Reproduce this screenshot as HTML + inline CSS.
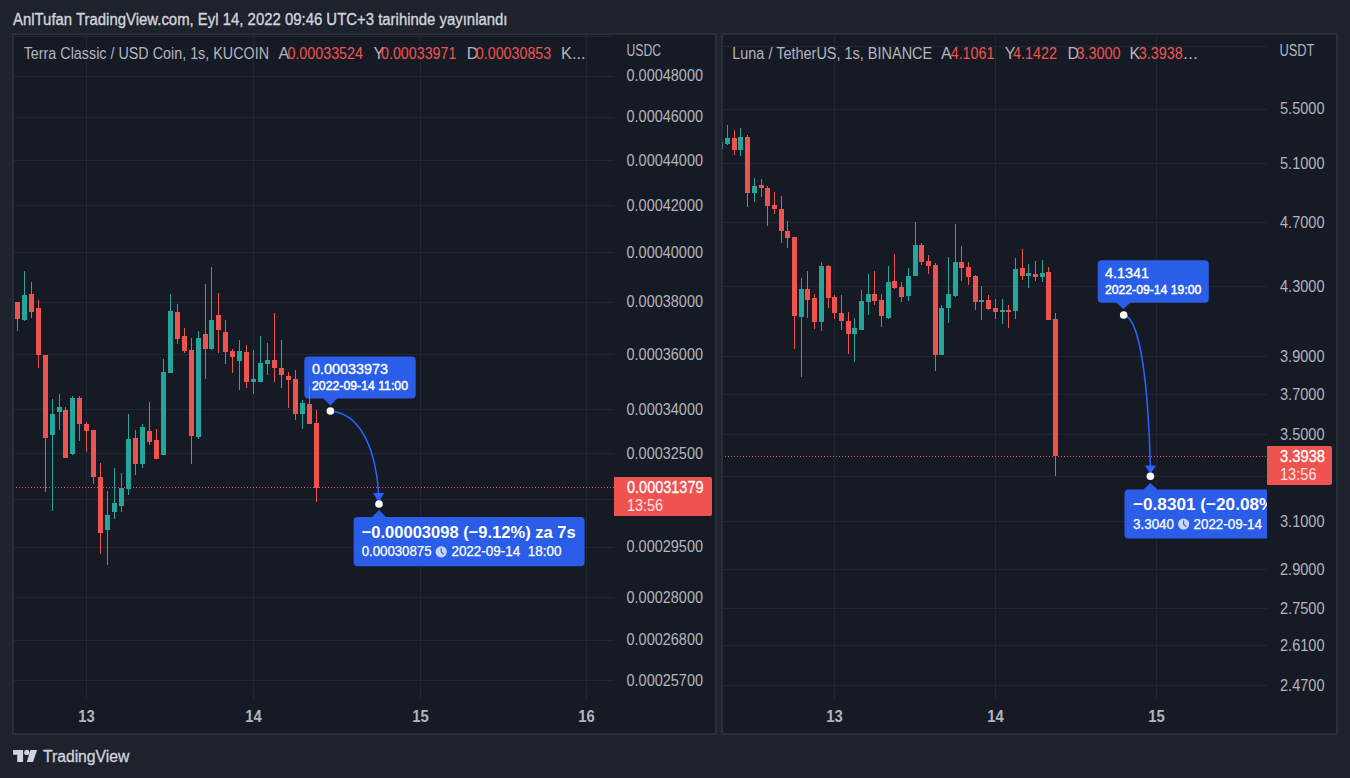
<!DOCTYPE html>
<html><head><meta charset="utf-8"><style>
html,body{margin:0;padding:0;background:#1e222d;width:1350px;height:778px;overflow:hidden}
svg{display:block;font-family:"Liberation Sans", sans-serif}
</style></head><body>
<svg width="1350" height="778" viewBox="0 0 1350 778">
<rect x="0" y="0" width="1350" height="778" fill="#1e222d" />
<text x="13" y="24.9" font-size="16" font-weight="400" fill="#d1d4dc" textLength="494.5" lengthAdjust="spacingAndGlyphs" stroke="#d1d4dc" stroke-width="0.35">AnlTufan TradingView.com, Eyl 14, 2022 09:46 UTC+3 tarihinde yayınlandı</text>
<rect x="12" y="33" width="705" height="702" fill="#2a2e39" />
<rect x="14" y="35" width="701" height="698" fill="#161a25" />
<rect x="721" y="33" width="617" height="702" fill="#2a2e39" />
<rect x="723" y="35" width="613" height="698" fill="#161a25" />
<g>
<rect x="14" y="36" width="600" height="1" fill="#222632" />
<rect x="14" y="76" width="600" height="1" fill="#222632" />
<rect x="14" y="117" width="600" height="1" fill="#222632" />
<rect x="14" y="160" width="600" height="1" fill="#222632" />
<rect x="14" y="205" width="600" height="1" fill="#222632" />
<rect x="14" y="252" width="600" height="1" fill="#222632" />
<rect x="14" y="302" width="600" height="1" fill="#222632" />
<rect x="14" y="354" width="600" height="1" fill="#222632" />
<rect x="14" y="409" width="600" height="1" fill="#222632" />
<rect x="14" y="453" width="600" height="1" fill="#222632" />
<rect x="14" y="499" width="600" height="1" fill="#222632" />
<rect x="14" y="547" width="600" height="1" fill="#222632" />
<rect x="14" y="597" width="600" height="1" fill="#222632" />
<rect x="14" y="640" width="600" height="1" fill="#222632" />
<rect x="14" y="680" width="600" height="1" fill="#222632" />
<rect x="86" y="35" width="1" height="664" fill="#222632" />
<rect x="253" y="35" width="1" height="664" fill="#222632" />
<rect x="420" y="35" width="1" height="664" fill="#222632" />
<rect x="586" y="35" width="1" height="664" fill="#222632" />
<rect x="723" y="46" width="544" height="1" fill="#222632" />
<rect x="723" y="109" width="544" height="1" fill="#222632" />
<rect x="723" y="163" width="544" height="1" fill="#222632" />
<rect x="723" y="222" width="544" height="1" fill="#222632" />
<rect x="723" y="286" width="544" height="1" fill="#222632" />
<rect x="723" y="356" width="544" height="1" fill="#222632" />
<rect x="723" y="394" width="544" height="1" fill="#222632" />
<rect x="723" y="434" width="544" height="1" fill="#222632" />
<rect x="723" y="476" width="544" height="1" fill="#222632" />
<rect x="723" y="521" width="544" height="1" fill="#222632" />
<rect x="723" y="569" width="544" height="1" fill="#222632" />
<rect x="723" y="608" width="544" height="1" fill="#222632" />
<rect x="723" y="645" width="544" height="1" fill="#222632" />
<rect x="723" y="685" width="544" height="1" fill="#222632" />
<rect x="834" y="35" width="1" height="664" fill="#222632" />
<rect x="995" y="35" width="1" height="664" fill="#222632" />
<rect x="1156" y="35" width="1" height="664" fill="#222632" />
</g>
<line x1="16" y1="487.5" x2="614" y2="487.5" stroke="#ef5350" stroke-width="1" stroke-dasharray="1 2"/>
<line x1="725" y1="456.5" x2="1267" y2="456.5" stroke="#ef5350" stroke-width="1" stroke-dasharray="1 2"/>
<text x="626.5" y="81.30344409725096" font-size="15.8" font-weight="400" fill="#b2b5be" textLength="76.5" lengthAdjust="spacingAndGlyphs" >0.00048000</text>
<text x="626.5" y="122.48838297031965" font-size="15.8" font-weight="400" fill="#b2b5be" textLength="76.5" lengthAdjust="spacingAndGlyphs" >0.00046000</text>
<text x="626.5" y="165.50435361011554" font-size="15.8" font-weight="400" fill="#b2b5be" textLength="76.5" lengthAdjust="spacingAndGlyphs" >0.00044000</text>
<text x="626.5" y="210.52177274000144" font-size="15.8" font-weight="400" fill="#b2b5be" textLength="76.5" lengthAdjust="spacingAndGlyphs" >0.00042000</text>
<text x="626.5" y="257.7360146067608" font-size="15.8" font-weight="400" fill="#b2b5be" textLength="76.5" lengthAdjust="spacingAndGlyphs" >0.00040000</text>
<text x="626.5" y="307.37253558559337" font-size="15.8" font-weight="400" fill="#b2b5be" textLength="76.5" lengthAdjust="spacingAndGlyphs" >0.00038000</text>
<text x="626.5" y="359.6933856088393" font-size="15.8" font-weight="400" fill="#b2b5be" textLength="76.5" lengthAdjust="spacingAndGlyphs" >0.00036000</text>
<text x="626.5" y="415.0055826817575" font-size="15.8" font-weight="400" fill="#b2b5be" textLength="76.5" lengthAdjust="spacingAndGlyphs" >0.00034000</text>
<text x="626.5" y="458.6686279026681" font-size="15.8" font-weight="400" fill="#b2b5be" textLength="76.5" lengthAdjust="spacingAndGlyphs" >0.00032500</text>
<text x="626.5" y="552.3902045131113" font-size="15.8" font-weight="400" fill="#b2b5be" textLength="76.5" lengthAdjust="spacingAndGlyphs" >0.00029500</text>
<text x="626.5" y="602.8903578562721" font-size="15.8" font-weight="400" fill="#b2b5be" textLength="76.5" lengthAdjust="spacingAndGlyphs" >0.00028000</text>
<text x="626.5" y="645.278155802799" font-size="15.8" font-weight="400" fill="#b2b5be" textLength="76.5" lengthAdjust="spacingAndGlyphs" >0.00026800</text>
<text x="626.5" y="685.8353294900506" font-size="15.8" font-weight="400" fill="#b2b5be" textLength="76.5" lengthAdjust="spacingAndGlyphs" >0.00025700</text>
<text x="626.5" y="56.2" font-size="16.8" font-weight="400" fill="#b2b5be" textLength="34.5" lengthAdjust="spacingAndGlyphs" >USDC</text>
<text x="1280" y="114.44819143253338" font-size="15.8" font-weight="400" fill="#b2b5be" textLength="44.5" lengthAdjust="spacingAndGlyphs" >5.5000</text>
<text x="1280" y="168.81362923839797" font-size="15.8" font-weight="400" fill="#b2b5be" textLength="44.5" lengthAdjust="spacingAndGlyphs" >5.1000</text>
<text x="1280" y="227.62181156867024" font-size="15.8" font-weight="400" fill="#b2b5be" textLength="44.5" lengthAdjust="spacingAndGlyphs" >4.7000</text>
<text x="1280" y="291.6640015005476" font-size="15.8" font-weight="400" fill="#b2b5be" textLength="44.5" lengthAdjust="spacingAndGlyphs" >4.3000</text>
<text x="1280" y="361.96369958656715" font-size="15.8" font-weight="400" fill="#b2b5be" textLength="44.5" lengthAdjust="spacingAndGlyphs" >3.9000</text>
<text x="1280" y="399.86718769607086" font-size="15.8" font-weight="400" fill="#b2b5be" textLength="44.5" lengthAdjust="spacingAndGlyphs" >3.7000</text>
<text x="1280" y="439.8774805275346" font-size="15.8" font-weight="400" fill="#b2b5be" textLength="44.5" lengthAdjust="spacingAndGlyphs" >3.5000</text>
<text x="1280" y="527.2572975706071" font-size="15.8" font-weight="400" fill="#b2b5be" textLength="44.5" lengthAdjust="spacingAndGlyphs" >3.1000</text>
<text x="1280" y="575.2750872096512" font-size="15.8" font-weight="400" fill="#b2b5be" textLength="44.5" lengthAdjust="spacingAndGlyphs" >2.9000</text>
<text x="1280" y="613.514161435694" font-size="15.8" font-weight="400" fill="#b2b5be" textLength="44.5" lengthAdjust="spacingAndGlyphs" >2.7500</text>
<text x="1280" y="651.1346584832861" font-size="15.8" font-weight="400" fill="#b2b5be" textLength="44.5" lengthAdjust="spacingAndGlyphs" >2.6100</text>
<text x="1280" y="690.8297493834817" font-size="15.8" font-weight="400" fill="#b2b5be" textLength="44.5" lengthAdjust="spacingAndGlyphs" >2.4700</text>
<text x="1279.4" y="56.0" font-size="16.8" font-weight="400" fill="#b2b5be" textLength="35" lengthAdjust="spacingAndGlyphs" >USDT</text>
<text x="78.25" y="722.1" font-size="16.5" font-weight="700" fill="#b2b5be" textLength="16.5" lengthAdjust="spacingAndGlyphs" >13</text>
<text x="245.25" y="722.1" font-size="16.5" font-weight="700" fill="#b2b5be" textLength="16.5" lengthAdjust="spacingAndGlyphs" >14</text>
<text x="412.25" y="722.1" font-size="16.5" font-weight="700" fill="#b2b5be" textLength="16.5" lengthAdjust="spacingAndGlyphs" >15</text>
<text x="578.25" y="722.1" font-size="16.5" font-weight="700" fill="#b2b5be" textLength="16.5" lengthAdjust="spacingAndGlyphs" >16</text>
<text x="826.25" y="722.1" font-size="16.5" font-weight="700" fill="#b2b5be" textLength="16.5" lengthAdjust="spacingAndGlyphs" >13</text>
<text x="987.25" y="722.1" font-size="16.5" font-weight="700" fill="#b2b5be" textLength="16.5" lengthAdjust="spacingAndGlyphs" >14</text>
<text x="1148.25" y="722.1" font-size="16.5" font-weight="700" fill="#b2b5be" textLength="16.5" lengthAdjust="spacingAndGlyphs" >15</text>
<text x="23.7" y="58.8" font-size="16" font-weight="400" fill="#b2b5be" textLength="245.3" lengthAdjust="spacingAndGlyphs" >Terra Classic / USD Coin, 1s, KUCOIN</text>
<text x="278.5" y="58.8" font-size="16" font-weight="400" fill="#b2b5be" >A</text>
<text x="287.4" y="58.8" font-size="16" font-weight="400" fill="#ef5350" textLength="75.6" lengthAdjust="spacingAndGlyphs" >0.00033524</text>
<text x="373.5" y="58.8" font-size="16" font-weight="400" fill="#b2b5be" >Y</text>
<text x="381" y="58.8" font-size="16" font-weight="400" fill="#ef5350" textLength="75.4" lengthAdjust="spacingAndGlyphs" >0.00033971</text>
<text x="466.8" y="58.8" font-size="16" font-weight="400" fill="#b2b5be" >D</text>
<text x="475.8" y="58.8" font-size="16" font-weight="400" fill="#ef5350" textLength="75.4" lengthAdjust="spacingAndGlyphs" >0.00030853</text>
<text x="561" y="58.8" font-size="16" font-weight="400" fill="#b2b5be" textLength="24.5" lengthAdjust="spacingAndGlyphs" >K...</text>
<text x="732.2" y="58.5" font-size="16" font-weight="400" fill="#b2b5be" textLength="200" lengthAdjust="spacingAndGlyphs" >Luna / TetherUS, 1s, BINANCE</text>
<text x="941" y="58.5" font-size="16" font-weight="400" fill="#b2b5be" >A</text>
<text x="950.7" y="58.5" font-size="16" font-weight="400" fill="#ef5350" textLength="43.7" lengthAdjust="spacingAndGlyphs" >4.1061</text>
<text x="1004.7" y="58.5" font-size="16" font-weight="400" fill="#b2b5be" >Y</text>
<text x="1013" y="58.5" font-size="16" font-weight="400" fill="#ef5350" textLength="44" lengthAdjust="spacingAndGlyphs" >4.1422</text>
<text x="1067.4" y="58.5" font-size="16" font-weight="400" fill="#b2b5be" >D</text>
<text x="1076.5" y="58.5" font-size="16" font-weight="400" fill="#ef5350" textLength="44" lengthAdjust="spacingAndGlyphs" >3.3000</text>
<text x="1129.6" y="58.5" font-size="16" font-weight="400" fill="#b2b5be" >K</text>
<text x="1138.7" y="58.5" font-size="16" font-weight="400" fill="#ef5350" textLength="44" lengthAdjust="spacingAndGlyphs" >3.3938</text>
<text x="1183" y="58.5" font-size="16" font-weight="400" fill="#b2b5be" textLength="15" lengthAdjust="spacingAndGlyphs" >...</text>
<path d="M614,477 H710 a2,2 0 0 1 2,2 V514 a2,2 0 0 1 -2,2 H614 Z" fill="#ef5350"/>
<text x="627" y="493.2" font-size="16" font-weight="400" fill="#ffffff" textLength="76.5" lengthAdjust="spacingAndGlyphs" stroke="#ffffff" stroke-width="0.3">0.00031379</text>
<text x="627" y="511" font-size="16" font-weight="400" fill="#ffffff" textLength="36" lengthAdjust="spacingAndGlyphs" opacity="0.85">13:56</text>
<path d="M1267,446 H1330 a2,2 0 0 1 2,2 V483 a2,2 0 0 1 -2,2 H1267 Z" fill="#ef5350"/>
<text x="1280" y="462.3" font-size="16" font-weight="400" fill="#ffffff" textLength="45" lengthAdjust="spacingAndGlyphs" stroke="#ffffff" stroke-width="0.3">3.3938</text>
<text x="1280" y="480" font-size="16" font-weight="400" fill="#ffffff" textLength="36.5" lengthAdjust="spacingAndGlyphs" opacity="0.85">13:56</text>
<path d="M308.3,356.5 H411.7 Q415.7,356.5 415.7,360.5 V394.6 Q415.7,398.6 411.7,398.6 H337.4 L330.4,405.4 L323.4,398.6 H308.3 Q304.3,398.6 304.3,394.6 V360.5 Q304.3,356.5 308.3,356.5 Z" fill="#2a5ee8"/>
<text x="312" y="373.6" font-size="14.8" font-weight="400" fill="#ffffff" textLength="76" lengthAdjust="spacingAndGlyphs" stroke="#ffffff" stroke-width="0.35">0.00033973</text>
<text x="312" y="389.6" font-size="13" font-weight="400" fill="#ffffff" textLength="96" lengthAdjust="spacingAndGlyphs" stroke="#ffffff" stroke-width="0.45">2022-09-14 11:00</text>
<path d="M330.4,411 C356,413 375,440 378.6,494" stroke="#2962ff" stroke-width="1.5" fill="none"/>
<path d="M373,493 L384,493 L378.6,502 Z" fill="#2962ff"/>
<circle cx="330.4" cy="411" r="3.8" fill="#ffffff"/>
<circle cx="379" cy="504" r="3.8" fill="#ffffff"/>
<path d="M357.6,516.9 H372 L379,510 L386,516.9 H580.6 Q584.6,516.9 584.6,520.9 V562.2 Q584.6,566.2 580.6,566.2 H357.6 Q353.6,566.2 353.6,562.2 V520.9 Q353.6,516.9 357.6,516.9 Z" fill="#2a5ee8"/>
<text x="361.7" y="537.9" font-size="17" font-weight="700" fill="#ffffff" textLength="214" lengthAdjust="spacingAndGlyphs" >−0.00003098 (−9.12%) za 7s</text>
<text x="361.7" y="556.1" font-size="14" font-weight="400" fill="#ffffff" textLength="69.8" lengthAdjust="spacingAndGlyphs" stroke="#ffffff" stroke-width="0.25">0.00030875</text>
<circle cx="441.2" cy="551.8" r="5.6" fill="#ffffff" opacity="0.75"/>
<path d="M441.2,548.3 V551.8 L443.7,554.3" stroke="#2a5ee8" stroke-width="1.2" fill="none"/>
<text x="451.4" y="556.1" font-size="14" font-weight="400" fill="#ffffff" textLength="110" lengthAdjust="spacingAndGlyphs" stroke="#ffffff" stroke-width="0.25">2022-09-14 &#160;18:00</text>
<path d="M1101.7,260.3 H1204.8 Q1208.8,260.3 1208.8,264.3 V298.7 Q1208.8,302.7 1204.8,302.7 H1130.4 L1123.4,309.1 L1116.4,302.7 H1101.7 Q1097.7,302.7 1097.7,298.7 V264.3 Q1097.7,260.3 1101.7,260.3 Z" fill="#2a5ee8"/>
<text x="1104.9" y="278" font-size="14.8" font-weight="400" fill="#ffffff" textLength="44" lengthAdjust="spacingAndGlyphs" stroke="#ffffff" stroke-width="0.35">4.1341</text>
<text x="1104.9" y="294.1" font-size="13" font-weight="400" fill="#ffffff" textLength="96.5" lengthAdjust="spacingAndGlyphs" stroke="#ffffff" stroke-width="0.45">2022-09-14 19:00</text>
<path d="M1123.7,315 C1135,317 1147,350 1150.4,466" stroke="#2962ff" stroke-width="1.5" fill="none"/>
<path d="M1145,465.5 L1156,465.5 L1150.4,474 Z" fill="#2962ff"/>
<circle cx="1123.7" cy="315" r="3.8" fill="#ffffff"/>
<circle cx="1150.4" cy="476.3" r="3.8" fill="#ffffff"/>
<path d="M1128.5,489.4 H1143.4 L1150.4,483 L1157.4,489.4 H1267 Q1267,489.4 1267,489.4 V538.5 Q1267,538.5 1267,538.5 H1128.5 Q1124.5,538.5 1124.5,534.5 V493.4 Q1124.5,489.4 1128.5,489.4 Z" fill="#2a5ee8"/>
<clipPath id="cpR"><rect x="723" y="35" width="544" height="700"/></clipPath>
<g clip-path="url(#cpR)">
<text x="1133" y="509.9" font-size="17" font-weight="700" fill="#ffffff" textLength="147" lengthAdjust="spacingAndGlyphs" >−0.8301 (−20.08%)</text>
</g>
<text x="1133" y="528.5" font-size="14" font-weight="400" fill="#ffffff" textLength="41" lengthAdjust="spacingAndGlyphs" stroke="#ffffff" stroke-width="0.25">3.3040</text>
<circle cx="1183.6" cy="524.1" r="5.6" fill="#ffffff" opacity="0.75"/>
<path d="M1183.6,520.6 V524.1 L1186.1,526.6" stroke="#2a5ee8" stroke-width="1.2" fill="none"/>
<text x="1193.5" y="528.5" font-size="14" font-weight="400" fill="#ffffff" textLength="68.5" lengthAdjust="spacingAndGlyphs" stroke="#ffffff" stroke-width="0.25">2022-09-14</text>
<g>
<rect x="17" y="302" width="1" height="29" fill="#ef5350"/>
<rect x="15" y="302" width="5" height="17" fill="#ef5350"/>
<rect x="24" y="271" width="1" height="50" fill="#26a69a"/>
<rect x="22" y="295" width="5" height="25" fill="#26a69a"/>
<rect x="31" y="282" width="1" height="36" fill="#ef5350"/>
<rect x="29" y="294" width="5" height="18" fill="#ef5350"/>
<rect x="38" y="300" width="1" height="68" fill="#ef5350"/>
<rect x="36" y="308" width="5" height="47" fill="#ef5350"/>
<rect x="45" y="355" width="1" height="137" fill="#ef5350"/>
<rect x="43" y="355" width="5" height="83" fill="#ef5350"/>
<rect x="52" y="399" width="1" height="112" fill="#26a69a"/>
<rect x="50" y="414" width="5" height="21" fill="#26a69a"/>
<rect x="59" y="394" width="1" height="36" fill="#26a69a"/>
<rect x="57" y="407" width="5" height="5" fill="#26a69a"/>
<rect x="65" y="407" width="1" height="51" fill="#ef5350"/>
<rect x="63" y="410" width="5" height="48" fill="#ef5350"/>
<rect x="72" y="396" width="1" height="59" fill="#26a69a"/>
<rect x="70" y="398" width="5" height="56" fill="#26a69a"/>
<rect x="79" y="396" width="1" height="45" fill="#ef5350"/>
<rect x="77" y="398" width="5" height="26" fill="#ef5350"/>
<rect x="86" y="422" width="1" height="30" fill="#ef5350"/>
<rect x="84" y="424" width="5" height="7" fill="#ef5350"/>
<rect x="93" y="430" width="1" height="54" fill="#ef5350"/>
<rect x="91" y="430" width="5" height="47" fill="#ef5350"/>
<rect x="100" y="463" width="1" height="91" fill="#ef5350"/>
<rect x="98" y="477" width="5" height="56" fill="#ef5350"/>
<rect x="107" y="491" width="1" height="74" fill="#26a69a"/>
<rect x="105" y="515" width="5" height="15" fill="#26a69a"/>
<rect x="114" y="468" width="1" height="51" fill="#26a69a"/>
<rect x="112" y="503" width="5" height="9" fill="#26a69a"/>
<rect x="121" y="473" width="1" height="39" fill="#26a69a"/>
<rect x="119" y="488" width="5" height="18" fill="#26a69a"/>
<rect x="128" y="414" width="1" height="81" fill="#26a69a"/>
<rect x="126" y="439" width="5" height="50" fill="#26a69a"/>
<rect x="135" y="430" width="1" height="45" fill="#ef5350"/>
<rect x="133" y="438" width="5" height="26" fill="#ef5350"/>
<rect x="142" y="424" width="1" height="44" fill="#26a69a"/>
<rect x="140" y="427" width="5" height="37" fill="#26a69a"/>
<rect x="149" y="402" width="1" height="43" fill="#ef5350"/>
<rect x="147" y="431" width="5" height="11" fill="#ef5350"/>
<rect x="156" y="429" width="1" height="30" fill="#ef5350"/>
<rect x="154" y="440" width="5" height="19" fill="#ef5350"/>
<rect x="163" y="359" width="1" height="96" fill="#26a69a"/>
<rect x="161" y="372" width="5" height="83" fill="#26a69a"/>
<rect x="170" y="294" width="1" height="79" fill="#26a69a"/>
<rect x="168" y="311" width="5" height="62" fill="#26a69a"/>
<rect x="177" y="304" width="1" height="40" fill="#ef5350"/>
<rect x="175" y="312" width="5" height="27" fill="#ef5350"/>
<rect x="184" y="328" width="1" height="25" fill="#ef5350"/>
<rect x="182" y="336" width="5" height="15" fill="#ef5350"/>
<rect x="191" y="338" width="1" height="126" fill="#ef5350"/>
<rect x="189" y="350" width="5" height="86" fill="#ef5350"/>
<rect x="198" y="331" width="1" height="108" fill="#26a69a"/>
<rect x="196" y="338" width="5" height="99" fill="#26a69a"/>
<rect x="205" y="284" width="1" height="95" fill="#ef5350"/>
<rect x="203" y="334" width="5" height="15" fill="#ef5350"/>
<rect x="211" y="267" width="1" height="83" fill="#26a69a"/>
<rect x="209" y="320" width="5" height="29" fill="#26a69a"/>
<rect x="218" y="293" width="1" height="60" fill="#ef5350"/>
<rect x="216" y="315" width="5" height="15" fill="#ef5350"/>
<rect x="225" y="320" width="1" height="44" fill="#ef5350"/>
<rect x="223" y="332" width="5" height="20" fill="#ef5350"/>
<rect x="232" y="349" width="1" height="24" fill="#ef5350"/>
<rect x="230" y="351" width="5" height="6" fill="#ef5350"/>
<rect x="239" y="340" width="1" height="50" fill="#26a69a"/>
<rect x="237" y="351" width="5" height="10" fill="#26a69a"/>
<rect x="246" y="345" width="1" height="43" fill="#ef5350"/>
<rect x="244" y="352" width="5" height="30" fill="#ef5350"/>
<rect x="253" y="350" width="1" height="44" fill="#26a69a"/>
<rect x="251" y="379" width="5" height="3" fill="#26a69a"/>
<rect x="260" y="336" width="1" height="46" fill="#26a69a"/>
<rect x="258" y="363" width="5" height="19" fill="#26a69a"/>
<rect x="267" y="343" width="1" height="32" fill="#26a69a"/>
<rect x="265" y="360" width="5" height="4" fill="#26a69a"/>
<rect x="274" y="313" width="1" height="69" fill="#ef5350"/>
<rect x="272" y="360" width="5" height="8" fill="#ef5350"/>
<rect x="281" y="340" width="1" height="48" fill="#ef5350"/>
<rect x="279" y="368" width="5" height="7" fill="#ef5350"/>
<rect x="288" y="372" width="1" height="36" fill="#ef5350"/>
<rect x="286" y="376" width="5" height="4" fill="#ef5350"/>
<rect x="295" y="370" width="1" height="50" fill="#ef5350"/>
<rect x="293" y="379" width="5" height="35" fill="#ef5350"/>
<rect x="302" y="400" width="1" height="29" fill="#26a69a"/>
<rect x="300" y="403" width="5" height="11" fill="#26a69a"/>
<rect x="309" y="385" width="1" height="39" fill="#ef5350"/>
<rect x="307" y="404" width="5" height="20" fill="#ef5350"/>
<rect x="316" y="410" width="1" height="92" fill="#ef5350"/>
<rect x="314" y="423" width="5" height="65" fill="#ef5350"/>
<rect x="727" y="125" width="1" height="20" fill="#26a69a"/>
<rect x="725" y="138" width="5" height="6" fill="#26a69a"/>
<rect x="734" y="130" width="1" height="25" fill="#ef5350"/>
<rect x="732" y="138" width="5" height="12" fill="#ef5350"/>
<rect x="740" y="128" width="1" height="28" fill="#26a69a"/>
<rect x="738" y="137" width="5" height="13" fill="#26a69a"/>
<rect x="747" y="135" width="1" height="72" fill="#ef5350"/>
<rect x="745" y="137" width="5" height="56" fill="#ef5350"/>
<rect x="754" y="178" width="1" height="24" fill="#26a69a"/>
<rect x="752" y="186" width="5" height="7" fill="#26a69a"/>
<rect x="761" y="179" width="1" height="18" fill="#ef5350"/>
<rect x="759" y="185" width="5" height="3" fill="#ef5350"/>
<rect x="767" y="186" width="1" height="40" fill="#ef5350"/>
<rect x="765" y="188" width="5" height="18" fill="#ef5350"/>
<rect x="774" y="192" width="1" height="22" fill="#ef5350"/>
<rect x="772" y="205" width="5" height="4" fill="#ef5350"/>
<rect x="781" y="196" width="1" height="47" fill="#ef5350"/>
<rect x="779" y="209" width="5" height="22" fill="#ef5350"/>
<rect x="787" y="221" width="1" height="27" fill="#ef5350"/>
<rect x="785" y="231" width="5" height="7" fill="#ef5350"/>
<rect x="794" y="237" width="1" height="112" fill="#ef5350"/>
<rect x="792" y="237" width="5" height="79" fill="#ef5350"/>
<rect x="801" y="278" width="1" height="99" fill="#26a69a"/>
<rect x="799" y="289" width="5" height="28" fill="#26a69a"/>
<rect x="807" y="271" width="1" height="47" fill="#ef5350"/>
<rect x="805" y="289" width="5" height="11" fill="#ef5350"/>
<rect x="814" y="294" width="1" height="35" fill="#ef5350"/>
<rect x="812" y="298" width="5" height="24" fill="#ef5350"/>
<rect x="821" y="262" width="1" height="69" fill="#26a69a"/>
<rect x="819" y="266" width="5" height="56" fill="#26a69a"/>
<rect x="828" y="265" width="1" height="43" fill="#ef5350"/>
<rect x="826" y="266" width="5" height="32" fill="#ef5350"/>
<rect x="834" y="295" width="1" height="24" fill="#ef5350"/>
<rect x="832" y="297" width="5" height="16" fill="#ef5350"/>
<rect x="841" y="295" width="1" height="35" fill="#ef5350"/>
<rect x="839" y="313" width="5" height="8" fill="#ef5350"/>
<rect x="848" y="312" width="1" height="42" fill="#ef5350"/>
<rect x="846" y="321" width="5" height="13" fill="#ef5350"/>
<rect x="854" y="318" width="1" height="44" fill="#26a69a"/>
<rect x="852" y="328" width="5" height="6" fill="#26a69a"/>
<rect x="861" y="290" width="1" height="40" fill="#26a69a"/>
<rect x="859" y="301" width="5" height="29" fill="#26a69a"/>
<rect x="868" y="274" width="1" height="41" fill="#26a69a"/>
<rect x="866" y="294" width="5" height="8" fill="#26a69a"/>
<rect x="874" y="271" width="1" height="34" fill="#ef5350"/>
<rect x="872" y="294" width="5" height="7" fill="#ef5350"/>
<rect x="881" y="294" width="1" height="33" fill="#ef5350"/>
<rect x="879" y="300" width="5" height="16" fill="#ef5350"/>
<rect x="888" y="266" width="1" height="53" fill="#26a69a"/>
<rect x="886" y="282" width="5" height="36" fill="#26a69a"/>
<rect x="894" y="254" width="1" height="35" fill="#ef5350"/>
<rect x="892" y="281" width="5" height="7" fill="#ef5350"/>
<rect x="901" y="282" width="1" height="20" fill="#ef5350"/>
<rect x="899" y="287" width="5" height="10" fill="#ef5350"/>
<rect x="908" y="268" width="1" height="33" fill="#26a69a"/>
<rect x="906" y="276" width="5" height="20" fill="#26a69a"/>
<rect x="915" y="222" width="1" height="54" fill="#26a69a"/>
<rect x="913" y="245" width="5" height="31" fill="#26a69a"/>
<rect x="921" y="243" width="1" height="22" fill="#ef5350"/>
<rect x="919" y="245" width="5" height="17" fill="#ef5350"/>
<rect x="928" y="255" width="1" height="19" fill="#ef5350"/>
<rect x="926" y="261" width="5" height="5" fill="#ef5350"/>
<rect x="935" y="263" width="1" height="108" fill="#ef5350"/>
<rect x="933" y="265" width="5" height="90" fill="#ef5350"/>
<rect x="941" y="305" width="1" height="50" fill="#26a69a"/>
<rect x="939" y="308" width="5" height="47" fill="#26a69a"/>
<rect x="948" y="257" width="1" height="66" fill="#26a69a"/>
<rect x="946" y="294" width="5" height="14" fill="#26a69a"/>
<rect x="955" y="224" width="1" height="73" fill="#26a69a"/>
<rect x="953" y="262" width="5" height="34" fill="#26a69a"/>
<rect x="961" y="246" width="1" height="35" fill="#ef5350"/>
<rect x="959" y="262" width="5" height="6" fill="#ef5350"/>
<rect x="968" y="262" width="1" height="23" fill="#ef5350"/>
<rect x="966" y="267" width="5" height="10" fill="#ef5350"/>
<rect x="975" y="275" width="1" height="35" fill="#ef5350"/>
<rect x="973" y="276" width="5" height="26" fill="#ef5350"/>
<rect x="981" y="286" width="1" height="34" fill="#26a69a"/>
<rect x="979" y="300" width="5" height="2" fill="#26a69a"/>
<rect x="988" y="295" width="1" height="15" fill="#ef5350"/>
<rect x="986" y="300" width="5" height="9" fill="#ef5350"/>
<rect x="995" y="299" width="1" height="20" fill="#ef5350"/>
<rect x="993" y="308" width="5" height="4" fill="#ef5350"/>
<rect x="1002" y="299" width="1" height="25" fill="#26a69a"/>
<rect x="1000" y="310" width="5" height="2" fill="#26a69a"/>
<rect x="1008" y="305" width="1" height="23" fill="#ef5350"/>
<rect x="1006" y="310" width="5" height="2" fill="#ef5350"/>
<rect x="1015" y="258" width="1" height="61" fill="#26a69a"/>
<rect x="1013" y="269" width="5" height="42" fill="#26a69a"/>
<rect x="1022" y="249" width="1" height="31" fill="#ef5350"/>
<rect x="1020" y="268" width="5" height="8" fill="#ef5350"/>
<rect x="1028" y="264" width="1" height="24" fill="#26a69a"/>
<rect x="1026" y="273" width="5" height="3" fill="#26a69a"/>
<rect x="1035" y="261" width="1" height="20" fill="#ef5350"/>
<rect x="1033" y="274" width="5" height="3" fill="#ef5350"/>
<rect x="1042" y="260" width="1" height="22" fill="#26a69a"/>
<rect x="1040" y="273" width="5" height="4" fill="#26a69a"/>
<rect x="1048" y="267" width="1" height="53" fill="#ef5350"/>
<rect x="1046" y="272" width="5" height="48" fill="#ef5350"/>
<rect x="1055" y="313" width="1" height="163" fill="#ef5350"/>
<rect x="1053" y="319" width="5" height="137" fill="#ef5350"/>
<rect x="722" y="142" width="1" height="7" fill="#26a69a" opacity="0.6"/>
</g>
<g fill="#d1d4dc">
<path d="M13.1,750 H23.1 V762 H17.2 V754.7 H13.1 Z"/>
<circle cx="26.8" cy="752.4" r="2.6"/>
<path d="M30.4,750 H37.1 L33,762 H26.8 Z"/>
</g>
<text x="42.9" y="761.8" font-size="16" font-weight="400" fill="#d1d4dc" textLength="86.5" lengthAdjust="spacingAndGlyphs" stroke="#d1d4dc" stroke-width="0.3">TradingView</text>
</svg>
</body></html>
